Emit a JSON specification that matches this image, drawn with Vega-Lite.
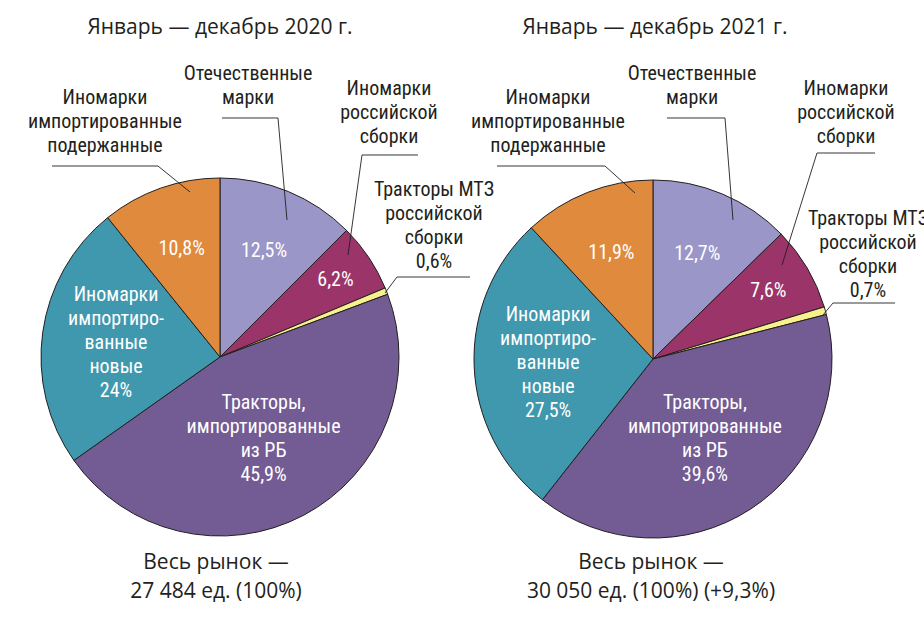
{
  "$schema": "https://vega.github.io/schema/vega-lite/v6.json",
  "padding": 0,
  "spacing": 0,
  "bounds": "flush",
  "background": "white",
  "config": {"view": {"stroke": null}},
  "datasets": {
    "shares": [
      {"year": "2020", "cat": "Отечественные марки", "v": 12.5, "o": 1, "inner": "12,5%"},
      {"year": "2020", "cat": "Иномарки российской сборки", "v": 6.2, "o": 2, "inner": "6,2%"},
      {"year": "2020", "cat": "Тракторы МТЗ российской сборки", "v": 0.6, "o": 3, "inner": ""},
      {"year": "2020", "cat": "Тракторы, импортированные из РБ", "v": 45.9, "o": 4, "inner": "Тракторы,|импортированные|из РБ|45,9%"},
      {"year": "2020", "cat": "Иномарки импортированные новые", "v": 24, "o": 5, "inner": "Иномарки|импортиро-|ванные|новые|24%"},
      {"year": "2020", "cat": "Иномарки импортированные подержанные", "v": 10.8, "o": 6, "inner": "10,8%"},
      {"year": "2021", "cat": "Отечественные марки", "v": 12.7, "o": 1, "inner": "12,7%"},
      {"year": "2021", "cat": "Иномарки российской сборки", "v": 7.6, "o": 2, "inner": "7,6%"},
      {"year": "2021", "cat": "Тракторы МТЗ российской сборки", "v": 0.7, "o": 3, "inner": ""},
      {"year": "2021", "cat": "Тракторы, импортированные из РБ", "v": 39.6, "o": 4, "inner": "Тракторы,|импортированные|из РБ|39,6%"},
      {"year": "2021", "cat": "Иномарки импортированные новые", "v": 27.5, "o": 5, "inner": "Иномарки|импортиро-|ванные|новые|27,5%"},
      {"year": "2021", "cat": "Иномарки импортированные подержанные", "v": 11.9, "o": 6, "inner": "11,9%"}
    ],
    "one": [{"note": "annotation"}]
  },
  "hconcat": [
    {
      "width": 437, "height": 618,
      "layer": [
        {"data": {"name": "shares"}, "transform": [{"filter": "datum.year == '2020'"}],
         "mark": {"type": "arc", "outerRadius": 179, "stroke": "#231f20", "strokeWidth": 1},
         "encoding": {
           "x": {"datum": 0, "type": "quantitative", "scale": {"domain": [-122.91, 121.23], "nice": false, "zero": false}, "axis": null},
           "y": {"datum": 0, "type": "quantitative", "scale": {"domain": [-145.81, 199.44], "nice": false, "zero": false}, "axis": null},
           "theta": {"field": "v", "type": "quantitative", "stack": true},
           "order": {"field": "o", "type": "quantitative"},
           "color": {"field": "cat", "type": "nominal", "legend": null, "scale": {"domain": ["Отечественные марки", "Иномарки российской сборки", "Тракторы МТЗ российской сборки", "Тракторы, импортированные из РБ", "Иномарки импортированные новые", "Иномарки импортированные подержанные"], "range": ["#9a96c8", "#9b3468", "#f7f08c", "#735b94", "#3f98ae", "#df8a3d"]}}
         }},
        {"data": {"name": "shares"}, "transform": [{"filter": "datum.year == '2020'"}],
         "mark": {"type": "text", "radius": 115, "fontSize": 20, "lineHeight": 24, "lineBreak": "|", "fill": "white", "font": "Liberation Sans Narrow, Roboto Condensed, Roboto", "align": "center", "baseline": "middle"},
         "encoding": {
           "x": {"datum": 0, "type": "quantitative", "axis": null},
           "y": {"datum": 0, "type": "quantitative", "axis": null},
           "theta": {"field": "v", "type": "quantitative", "stack": true},
           "order": {"field": "o", "type": "quantitative"},
           "text": {"condition": {"test": "datum.o == 1 || datum.o == 6", "field": "inner"}, "value": ""}
         }},
        {"data": {"name": "shares"}, "transform": [{"filter": "datum.year == '2020'"}],
         "mark": {"type": "text", "radius": 139, "fontSize": 20, "lineHeight": 24, "lineBreak": "|", "fill": "white", "font": "Liberation Sans Narrow, Roboto Condensed, Roboto", "align": "center", "baseline": "middle"},
         "encoding": {
           "x": {"datum": 0, "type": "quantitative", "axis": null},
           "y": {"datum": 0, "type": "quantitative", "axis": null},
           "theta": {"field": "v", "type": "quantitative", "stack": true},
           "order": {"field": "o", "type": "quantitative"},
           "text": {"condition": {"test": "datum.o == 2", "field": "inner"}, "value": ""}
         }},
        {"data": {"name": "shares"}, "transform": [{"filter": "datum.year == '2020'"}],
         "mark": {"type": "text", "radius": 93, "dy": -36, "fontSize": 20, "lineHeight": 24, "lineBreak": "|", "fill": "white", "font": "Liberation Sans Narrow, Roboto Condensed, Roboto", "align": "center", "baseline": "middle"},
         "encoding": {
           "x": {"datum": 0, "type": "quantitative", "axis": null},
           "y": {"datum": 0, "type": "quantitative", "axis": null},
           "theta": {"field": "v", "type": "quantitative", "stack": true},
           "order": {"field": "o", "type": "quantitative"},
           "text": {"condition": {"test": "datum.o == 4", "field": "inner"}, "value": ""}
         }},
        {"data": {"name": "shares"}, "transform": [{"filter": "datum.year == '2020'"}],
         "mark": {"type": "text", "radius": 105, "dy": -48, "fontSize": 20, "lineHeight": 24, "lineBreak": "|", "fill": "white", "font": "Liberation Sans Narrow, Roboto Condensed, Roboto", "align": "center", "baseline": "middle"},
         "encoding": {
           "x": {"datum": 0, "type": "quantitative", "axis": null},
           "y": {"datum": 0, "type": "quantitative", "axis": null},
           "theta": {"field": "v", "type": "quantitative", "stack": true},
           "order": {"field": "o", "type": "quantitative"},
           "text": {"condition": {"test": "datum.o == 5", "field": "inner"}, "value": ""}
         }},
        {"data": {"name": "one"}, "mark": {"type": "text", "fontSize": 21, "fill": "#231f20", "font": "Open Sans", "align": "center", "baseline": "middle"},
         "encoding": {"x": {"datum": 0, "type": "quantitative", "axis": null}, "y": {"datum": 183.8, "type": "quantitative", "axis": null}, "text": {"value": "Январь — декабрь 2020 г."}}},
        {"data": {"name": "one"}, "mark": {"type": "text", "fontSize": 21, "lineHeight": 29, "fill": "#231f20", "font": "Open Sans", "align": "center", "baseline": "middle"},
         "encoding": {"x": {"datum": -2.23, "type": "quantitative", "axis": null}, "y": {"datum": -115.08, "type": "quantitative", "axis": null}, "text": {"value": ["Весь рынок —", "27 484 ед. (100%)"]}}},
        {"data": {"name": "one"}, "mark": {"type": "text", "fontSize": 20, "lineHeight": 24, "fill": "#231f20", "font": "Liberation Sans Narrow, Roboto Condensed, Roboto", "align": "center", "baseline": "middle"},
         "encoding": {"x": {"datum": 15.64, "type": "quantitative", "axis": null}, "y": {"datum": 158.1, "type": "quantitative", "axis": null}, "text": {"value": ["Отечественные", "марки"]}}},
        {"data": {"name": "one"}, "mark": {"type": "text", "fontSize": 20, "lineHeight": 24, "fill": "#231f20", "font": "Liberation Sans Narrow, Roboto Condensed, Roboto", "align": "center", "baseline": "middle"},
         "encoding": {"x": {"datum": 94.41, "type": "quantitative", "axis": null}, "y": {"datum": 149.72, "type": "quantitative", "axis": null}, "text": {"value": ["Иномарки", "российской", "сборки"]}}},
        {"data": {"name": "one"}, "mark": {"type": "text", "fontSize": 20, "lineHeight": 24, "fill": "#231f20", "font": "Liberation Sans Narrow, Roboto Condensed, Roboto", "align": "center", "baseline": "middle"},
         "encoding": {"x": {"datum": 119.55, "type": "quantitative", "axis": null}, "y": {"datum": 93.57, "type": "quantitative", "axis": null}, "text": {"value": ["Тракторы МТЗ", "российской", "сборки", "0,6%"]}}},
        {"data": {"name": "one"}, "mark": {"type": "text", "fontSize": 20, "lineHeight": 24, "fill": "#231f20", "font": "Liberation Sans Narrow, Roboto Condensed, Roboto", "align": "center", "baseline": "middle"},
         "encoding": {"x": {"datum": -64.25, "type": "quantitative", "axis": null}, "y": {"datum": 144.69, "type": "quantitative", "axis": null}, "text": {"value": ["Иномарки", "импортированные", "подержанные"]}}},
        {"data": {"name": "one"}, "mark": {"type": "rule", "stroke": "#231f20", "strokeWidth": 0.9},
         "encoding": {"x": {"datum": 1.12, "type": "quantitative", "axis": null}, "x2": {"datum": 32.4}, "y": {"datum": 133.52, "type": "quantitative", "axis": null}, "y2": {"datum": 133.52}}},
        {"data": {"name": "one"}, "mark": {"type": "rule", "stroke": "#231f20", "strokeWidth": 0.9},
         "encoding": {"x": {"datum": 32.4, "type": "quantitative", "axis": null}, "x2": {"datum": 37.43}, "y": {"datum": 133.52, "type": "quantitative", "axis": null}, "y2": {"datum": 76.54}}},
        {"data": {"name": "one"}, "mark": {"type": "rule", "stroke": "#231f20", "strokeWidth": 0.9},
         "encoding": {"x": {"datum": 79.33, "type": "quantitative", "axis": null}, "x2": {"datum": 110.61}, "y": {"datum": 112.85, "type": "quantitative", "axis": null}, "y2": {"datum": 112.85}}},
        {"data": {"name": "one"}, "mark": {"type": "rule", "stroke": "#231f20", "strokeWidth": 0.9},
         "encoding": {"x": {"datum": 79.33, "type": "quantitative", "axis": null}, "x2": {"datum": 71.51}, "y": {"datum": 112.85, "type": "quantitative", "axis": null}, "y2": {"datum": 56.98}}},
        {"data": {"name": "one"}, "mark": {"type": "rule", "stroke": "#231f20", "strokeWidth": 0.9},
         "encoding": {"x": {"datum": 98.88, "type": "quantitative", "axis": null}, "x2": {"datum": 139.66}, "y": {"datum": 44.69, "type": "quantitative", "axis": null}, "y2": {"datum": 44.69}}},
        {"data": {"name": "one"}, "mark": {"type": "rule", "stroke": "#231f20", "strokeWidth": 0.9},
         "encoding": {"x": {"datum": 98.88, "type": "quantitative", "axis": null}, "x2": {"datum": 92.18}, "y": {"datum": 44.69, "type": "quantitative", "axis": null}, "y2": {"datum": 35.75}}},
        {"data": {"name": "one"}, "mark": {"type": "rule", "stroke": "#231f20", "strokeWidth": 0.9},
         "encoding": {"x": {"datum": -93.85, "type": "quantitative", "axis": null}, "x2": {"datum": -34.64}, "y": {"datum": 106.7, "type": "quantitative", "axis": null}, "y2": {"datum": 106.7}}},
        {"data": {"name": "one"}, "mark": {"type": "rule", "stroke": "#231f20", "strokeWidth": 0.9},
         "encoding": {"x": {"datum": -34.64, "type": "quantitative", "axis": null}, "x2": {"datum": -16.76}, "y": {"datum": 106.7, "type": "quantitative", "axis": null}, "y2": {"datum": 92.18}}}
      ]
    },
    {
      "width": 487, "height": 618,
      "layer": [
        {"data": {"name": "shares"}, "transform": [{"filter": "datum.year == '2021'"}],
         "mark": {"type": "arc", "outerRadius": 179, "stroke": "#231f20", "strokeWidth": 1},
         "encoding": {
           "x": {"datum": 0, "type": "quantitative", "scale": {"domain": [-120.67, 151.4], "nice": false, "zero": false}, "axis": null},
           "y": {"datum": 0, "type": "quantitative", "scale": {"domain": [-144.69, 200.56], "nice": false, "zero": false}, "axis": null},
           "theta": {"field": "v", "type": "quantitative", "stack": true},
           "order": {"field": "o", "type": "quantitative"},
           "color": {"field": "cat", "type": "nominal", "legend": null, "scale": {"domain": ["Отечественные марки", "Иномарки российской сборки", "Тракторы МТЗ российской сборки", "Тракторы, импортированные из РБ", "Иномарки импортированные новые", "Иномарки импортированные подержанные"], "range": ["#9a96c8", "#9b3468", "#f7f08c", "#735b94", "#3f98ae", "#df8a3d"]}}
         }},
        {"data": {"name": "shares"}, "transform": [{"filter": "datum.year == '2021'"}],
         "mark": {"type": "text", "radius": 114, "fontSize": 20, "lineHeight": 24, "lineBreak": "|", "fill": "white", "font": "Liberation Sans Narrow, Roboto Condensed, Roboto", "align": "center", "baseline": "middle"},
         "encoding": {
           "x": {"datum": 0, "type": "quantitative", "axis": null},
           "y": {"datum": 0, "type": "quantitative", "axis": null},
           "theta": {"field": "v", "type": "quantitative", "stack": true},
           "order": {"field": "o", "type": "quantitative"},
           "text": {"condition": {"test": "datum.o == 1 || datum.o == 6", "field": "inner"}, "value": ""}
         }},
        {"data": {"name": "shares"}, "transform": [{"filter": "datum.year == '2021'"}],
         "mark": {"type": "text", "radius": 134, "fontSize": 20, "lineHeight": 24, "lineBreak": "|", "fill": "white", "font": "Liberation Sans Narrow, Roboto Condensed, Roboto", "align": "center", "baseline": "middle"},
         "encoding": {
           "x": {"datum": 0, "type": "quantitative", "axis": null},
           "y": {"datum": 0, "type": "quantitative", "axis": null},
           "theta": {"field": "v", "type": "quantitative", "stack": true},
           "order": {"field": "o", "type": "quantitative"},
           "text": {"condition": {"test": "datum.o == 2", "field": "inner"}, "value": ""}
         }},
        {"data": {"name": "shares"}, "transform": [{"filter": "datum.year == '2021'"}],
         "mark": {"type": "text", "radius": 95, "dy": -36, "fontSize": 20, "lineHeight": 24, "lineBreak": "|", "fill": "white", "font": "Liberation Sans Narrow, Roboto Condensed, Roboto", "align": "center", "baseline": "middle"},
         "encoding": {
           "x": {"datum": 0, "type": "quantitative", "axis": null},
           "y": {"datum": 0, "type": "quantitative", "axis": null},
           "theta": {"field": "v", "type": "quantitative", "stack": true},
           "order": {"field": "o", "type": "quantitative"},
           "text": {"condition": {"test": "datum.o == 4", "field": "inner"}, "value": ""}
         }},
        {"data": {"name": "shares"}, "transform": [{"filter": "datum.year == '2021'"}],
         "mark": {"type": "text", "radius": 105, "dy": -48, "fontSize": 20, "lineHeight": 24, "lineBreak": "|", "fill": "white", "font": "Liberation Sans Narrow, Roboto Condensed, Roboto", "align": "center", "baseline": "middle"},
         "encoding": {
           "x": {"datum": 0, "type": "quantitative", "axis": null},
           "y": {"datum": 0, "type": "quantitative", "axis": null},
           "theta": {"field": "v", "type": "quantitative", "stack": true},
           "order": {"field": "o", "type": "quantitative"},
           "text": {"condition": {"test": "datum.o == 5", "field": "inner"}, "value": ""}
         }},
        {"data": {"name": "one"}, "mark": {"type": "text", "fontSize": 21, "fill": "#231f20", "font": "Open Sans", "align": "center", "baseline": "middle"},
         "encoding": {"x": {"datum": 1.12, "type": "quantitative", "axis": null}, "y": {"datum": 184.92, "type": "quantitative", "axis": null}, "text": {"value": "Январь — декабрь 2021 г."}}},
        {"data": {"name": "one"}, "mark": {"type": "text", "fontSize": 21, "lineHeight": 29, "fill": "#231f20", "font": "Open Sans", "align": "center", "baseline": "middle"},
         "encoding": {"x": {"datum": -1.12, "type": "quantitative", "axis": null}, "y": {"datum": -113.97, "type": "quantitative", "axis": null}, "text": {"value": ["Весь рынок —", "30 050 ед. (100%) (+9,3%)"]}}},
        {"data": {"name": "one"}, "mark": {"type": "text", "fontSize": 20, "lineHeight": 24, "fill": "#231f20", "font": "Liberation Sans Narrow, Roboto Condensed, Roboto", "align": "center", "baseline": "middle"},
         "encoding": {"x": {"datum": 21.79, "type": "quantitative", "axis": null}, "y": {"datum": 159.21, "type": "quantitative", "axis": null}, "text": {"value": ["Отечественные", "марки"]}}},
        {"data": {"name": "one"}, "mark": {"type": "text", "fontSize": 20, "lineHeight": 24, "fill": "#231f20", "font": "Liberation Sans Narrow, Roboto Condensed, Roboto", "align": "center", "baseline": "middle"},
         "encoding": {"x": {"datum": 107.82, "type": "quantitative", "axis": null}, "y": {"datum": 150.84, "type": "quantitative", "axis": null}, "text": {"value": ["Иномарки", "российской", "сборки"]}}},
        {"data": {"name": "one"}, "mark": {"type": "text", "fontSize": 20, "lineHeight": 24, "fill": "#231f20", "font": "Liberation Sans Narrow, Roboto Condensed, Roboto", "align": "center", "baseline": "middle", "clip": true},
         "encoding": {"x": {"datum": 120.1, "type": "quantitative", "axis": null}, "y": {"datum": 78.49, "type": "quantitative", "axis": null}, "text": {"value": ["Тракторы МТЗ", "российской", "сборки", "0,7%"]}}},
        {"data": {"name": "one"}, "mark": {"type": "text", "fontSize": 20, "lineHeight": 24, "fill": "#231f20", "font": "Liberation Sans Narrow, Roboto Condensed, Roboto", "align": "center", "baseline": "middle"},
         "encoding": {"x": {"datum": -58.66, "type": "quantitative", "axis": null}, "y": {"datum": 145.81, "type": "quantitative", "axis": null}, "text": {"value": ["Иномарки", "импортированные", "подержанные"]}}},
        {"data": {"name": "one"}, "mark": {"type": "rule", "stroke": "#231f20", "strokeWidth": 0.9},
         "encoding": {"x": {"datum": 7.82, "type": "quantitative", "axis": null}, "x2": {"datum": 40.22}, "y": {"datum": 134.64, "type": "quantitative", "axis": null}, "y2": {"datum": 134.64}}},
        {"data": {"name": "one"}, "mark": {"type": "rule", "stroke": "#231f20", "strokeWidth": 0.9},
         "encoding": {"x": {"datum": 40.22, "type": "quantitative", "axis": null}, "x2": {"datum": 44.69}, "y": {"datum": 134.64, "type": "quantitative", "axis": null}, "y2": {"datum": 77.65}}},
        {"data": {"name": "one"}, "mark": {"type": "rule", "stroke": "#231f20", "strokeWidth": 0.9},
         "encoding": {"x": {"datum": 91.62, "type": "quantitative", "axis": null}, "x2": {"datum": 124.02}, "y": {"datum": 115.08, "type": "quantitative", "axis": null}, "y2": {"datum": 115.08}}},
        {"data": {"name": "one"}, "mark": {"type": "rule", "stroke": "#231f20", "strokeWidth": 0.9},
         "encoding": {"x": {"datum": 91.62, "type": "quantitative", "axis": null}, "x2": {"datum": 72.07}, "y": {"datum": 115.08, "type": "quantitative", "axis": null}, "y2": {"datum": 52.51}}},
        {"data": {"name": "one"}, "mark": {"type": "rule", "stroke": "#231f20", "strokeWidth": 0.9},
         "encoding": {"x": {"datum": 100.56, "type": "quantitative", "axis": null}, "x2": {"datum": 135.2}, "y": {"datum": 31.28, "type": "quantitative", "axis": null}, "y2": {"datum": 31.28}}},
        {"data": {"name": "one"}, "mark": {"type": "rule", "stroke": "#231f20", "strokeWidth": 0.9},
         "encoding": {"x": {"datum": 100.56, "type": "quantitative", "axis": null}, "x2": {"datum": 94.97}, "y": {"datum": 31.28, "type": "quantitative", "axis": null}, "y2": {"datum": 24.58}}},
        {"data": {"name": "one"}, "mark": {"type": "rule", "stroke": "#231f20", "strokeWidth": 0.9},
         "encoding": {"x": {"datum": -87.15, "type": "quantitative", "axis": null}, "x2": {"datum": -26.82}, "y": {"datum": 107.82, "type": "quantitative", "axis": null}, "y2": {"datum": 107.82}}},
        {"data": {"name": "one"}, "mark": {"type": "rule", "stroke": "#231f20", "strokeWidth": 0.9},
         "encoding": {"x": {"datum": -26.82, "type": "quantitative", "axis": null}, "x2": {"datum": -10.06}, "y": {"datum": 107.82, "type": "quantitative", "axis": null}, "y2": {"datum": 92.74}}}
      ]
    }
  ]
}
